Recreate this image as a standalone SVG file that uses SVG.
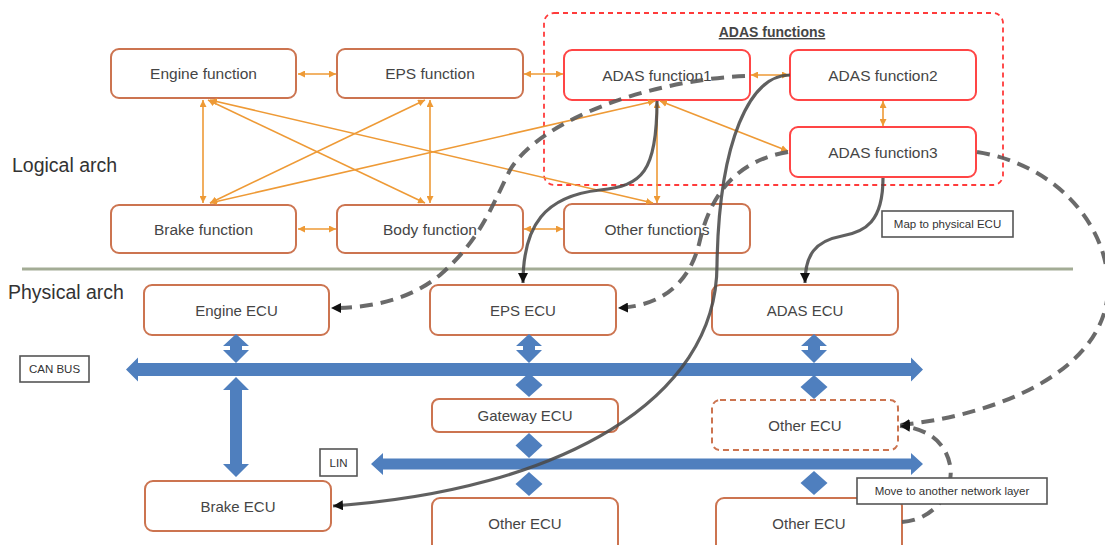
<svg xmlns="http://www.w3.org/2000/svg" width="1105" height="545" viewBox="0 0 1105 545">
<style>
  .fbox { fill: #ffffff; stroke: #cc7450; stroke-width: 2; }
  .abox { fill: #ffffff; stroke: #ff4545; stroke-width: 2; }
  .ebox { fill: #ffffff; stroke: #cc7450; stroke-width: 2; }
  .ftxt { font-family: "Liberation Sans", Arial, sans-serif; font-size: 15.5px; fill: #454545; text-anchor: middle; }
  .etxt { font-family: "Liberation Sans", Arial, sans-serif; font-size: 15px; fill: #454545; text-anchor: middle; }
  .side { font-family: "Liberation Sans", Arial, sans-serif; font-size: 19.5px; fill: #333333; }
  .lbl { fill: #ffffff; stroke: #555555; stroke-width: 1.6; }
  .ltxt { font-family: "Liberation Sans", Arial, sans-serif; font-size: 11.5px; fill: #333333; text-anchor: middle; }
  .blue { fill: #4f7fbe; }
  .or { stroke: #ee9a36; stroke-width: 1.6; fill: none; marker-start: url(#oh); marker-end: url(#oh); }
  .solid { stroke: #4a4a4a; stroke-opacity: 0.88; stroke-width: 3.2; fill: none; marker-end: url(#bh); }
  .dash { stroke: #5a5a5a; stroke-opacity: 0.9; stroke-width: 4; stroke-dasharray: 13 8; fill: none; marker-end: url(#bh); }
</style>
<defs>
  <marker id="oh" markerUnits="userSpaceOnUse" markerWidth="8" markerHeight="7" refX="7" refY="3.5" orient="auto-start-reverse">
    <path d="M0,0 L7,3.5 L0,7 z" fill="#ee9a36"/>
  </marker>
  <marker id="bh" markerUnits="userSpaceOnUse" markerWidth="11" markerHeight="10" refX="10" refY="5" orient="auto">
    <path d="M0,0 L10,5 L0,10 z" fill="#111111"/>
  </marker>
</defs>
<rect x="0" y="0" width="1105" height="545" fill="#ffffff"/>

<!-- side labels and separator -->
<text class="side" x="12" y="172">Logical arch</text>
<text class="side" x="8" y="299">Physical arch</text>
<line x1="22" y1="269" x2="1073" y2="269" stroke="#a3ac95" stroke-width="3"/>

<!-- ADAS group -->
<g id="adas-group">
  <rect x="544" y="13" width="459" height="172" rx="10" fill="none" stroke="#ff3b3b" stroke-width="1.8" stroke-dasharray="5 4"/>
  <text x="772" y="37" font-family="Liberation Sans, Arial, sans-serif" font-size="14" font-weight="bold" fill="#454545" text-anchor="middle" text-decoration="underline">ADAS functions</text>
</g>

<!-- function nodes -->
<g id="engine-function"><rect class="fbox" x="111" y="49" width="185" height="49" rx="8"/><text class="ftxt" x="203.5" y="79">Engine function</text></g>
<g id="eps-function"><rect class="fbox" x="337" y="49" width="186" height="49" rx="8"/><text class="ftxt" x="430" y="79">EPS function</text></g>
<g id="adas-function1"><rect class="abox" x="564" y="50" width="186" height="50" rx="8"/><text class="ftxt" x="657" y="81">ADAS function1</text></g>
<g id="adas-function2"><rect class="abox" x="790" y="50" width="186" height="50" rx="8"/><text class="ftxt" x="883" y="81">ADAS function2</text></g>
<g id="adas-function3"><rect class="abox" x="790" y="127" width="186" height="50" rx="8"/><text class="ftxt" x="883" y="158">ADAS function3</text></g>
<g id="brake-function"><rect class="fbox" x="111" y="205" width="185" height="48" rx="8"/><text class="ftxt" x="203.5" y="235">Brake function</text></g>
<g id="body-function"><rect class="fbox" x="337" y="205" width="186" height="48" rx="8"/><text class="ftxt" x="430" y="235">Body function</text></g>
<g id="other-functions"><rect class="fbox" x="564" y="204" width="186" height="49" rx="8"/><text class="ftxt" x="657" y="235">Other functions</text></g>

<!-- ECU nodes -->
<g id="engine-ecu"><rect class="ebox" x="144" y="285" width="185" height="50" rx="8"/><text class="etxt" x="236.5" y="316">Engine ECU</text></g>
<g id="eps-ecu"><rect class="ebox" x="430" y="285" width="186" height="50" rx="8"/><text class="etxt" x="523" y="316">EPS ECU</text></g>
<g id="adas-ecu"><rect class="ebox" x="712" y="285" width="186" height="50" rx="8"/><text class="etxt" x="805" y="316">ADAS ECU</text></g>
<g id="gateway-ecu"><rect class="ebox" x="432" y="399" width="186" height="33" rx="7"/><text class="etxt" x="525" y="421">Gateway ECU</text></g>
<g id="other-ecu-dashed"><rect class="ebox" x="712" y="400" width="186" height="50" rx="8" stroke-dasharray="6 4"/><text class="etxt" x="805" y="431">Other ECU</text></g>
<g id="brake-ecu"><rect class="ebox" x="145" y="481" width="186" height="50" rx="8"/><text class="etxt" x="238" y="512">Brake ECU</text></g>
<g id="other-ecu-1"><rect class="ebox" x="432" y="498" width="186" height="62" rx="8"/><text class="etxt" x="525" y="529">Other ECU</text></g>
<g id="other-ecu-2"><rect class="ebox" x="716" y="498" width="186" height="62" rx="8"/><text class="etxt" x="809" y="529">Other ECU</text></g>

<!-- buses -->
<g id="can-bus">
  <polygon class="blue" points="126,369.5 138,357.5 138,363 911,363 911,357.5 923,369.5 911,381.5 911,376 138,376 138,381.5"/>
</g>
<g id="lin-bus">
  <polygon class="blue" points="371,464 383,453 383,458.5 911,458.5 911,453 923,464 911,475 911,469.5 383,469.5 383,475"/>
</g>
<g id="bus-links">
  <polygon class="blue" points="236,334 249,346 242,346 242,350 249,350 236,363 223,350 230,350 230,346 223,346"/>
  <polygon class="blue" points="529,334 542,346 535,346 535,350 542,350 529,363 516,350 523,350 523,346 516,346"/>
  <polygon class="blue" points="814,334 827,346 820,346 820,350 827,350 814,363 801,350 808,350 808,346 801,346"/>
  <polygon class="blue" points="236,377 249,390 242,390 242,464 249,464 236,477 223,464 230,464 230,390 223,390"/>
  <polygon class="blue" points="529,373 542.5,385 529,397 515.5,385"/>
  <polygon class="blue" points="814,375 827.5,387 814,399 800.5,387"/>
  <polygon class="blue" points="529,433 542.5,445.5 529,458 515.5,445.5"/>
  <polygon class="blue" points="529,472 542.5,484 529,496 515.5,484"/>
  <polygon class="blue" points="814,471 827.5,483 814,495 800.5,483"/>
</g>

<!-- connectors -->
<g id="connectors">
  <path class="or" d="M298,74 L336,74"/>
  <path class="or" d="M524,74 L563,74"/>
  <path class="or" d="M298,229 L336,229"/>
  <path class="or" d="M524,229 L563,229"/>
  <path class="or" d="M751,75 L789,75"/>
  <path class="or" d="M883,101 L883,126"/>
  <path class="or" d="M203,100 L203,203"/>
  <path class="or" d="M430,100 L430,203"/>
  <path class="or" d="M208,100 L425,203"/>
  <path class="or" d="M210,100 L653,203"/>
  <path class="or" d="M210,203 L425,100"/>
  <path class="or" d="M210,203 L655,101"/>
  <path class="or" d="M660,101 L788,151"/>
  <path class="or" d="M657,101 L657,203"/>

  <path class="solid" d="M657,101 C657,172 642,186 600,190 C545,196 523,225 523,283"/>
  <path class="solid" d="M790,75 C750,75 719,140 717,265 C717,400 560,490 333,506"/>
  <path class="solid" d="M883,178 C883,222 865,232 842,236 C815,241 805,255 805,283"/>

  <path class="dash" d="M745,76 C650,80 540,120 510,170 C490,210 480,240 440,275 C410,300 370,308 331,308"/>
  <path class="dash" d="M788,152 C740,160 712,190 700,240 C690,285 660,306 618,308"/>
  <path class="dash" d="M977,152 C1060,165 1110,230 1108,290 C1105,370 1000,415 900,425"/>
  <path class="dash" d="M902,522 C935,520 955,490 950,465 C945,440 925,428 900,426"/>
</g>

<!-- labels -->
<g id="can-bus-label"><rect class="lbl" x="20" y="356" width="69" height="26"/><text class="ltxt" x="54.5" y="373" font-size="11">CAN BUS</text></g>
<g id="lin-label"><rect class="lbl" x="320" y="449" width="37" height="27"/><text class="ltxt" x="338.5" y="466.5" font-size="11">LIN</text></g>
<g id="map-label"><rect class="lbl" x="882" y="211" width="131" height="26"/><text class="ltxt" x="947.5" y="228">Map to physical ECU</text></g>
<g id="move-label"><rect class="lbl" x="857" y="478" width="190" height="26"/><text class="ltxt" x="952" y="495">Move to another network layer</text></g>
</svg>
